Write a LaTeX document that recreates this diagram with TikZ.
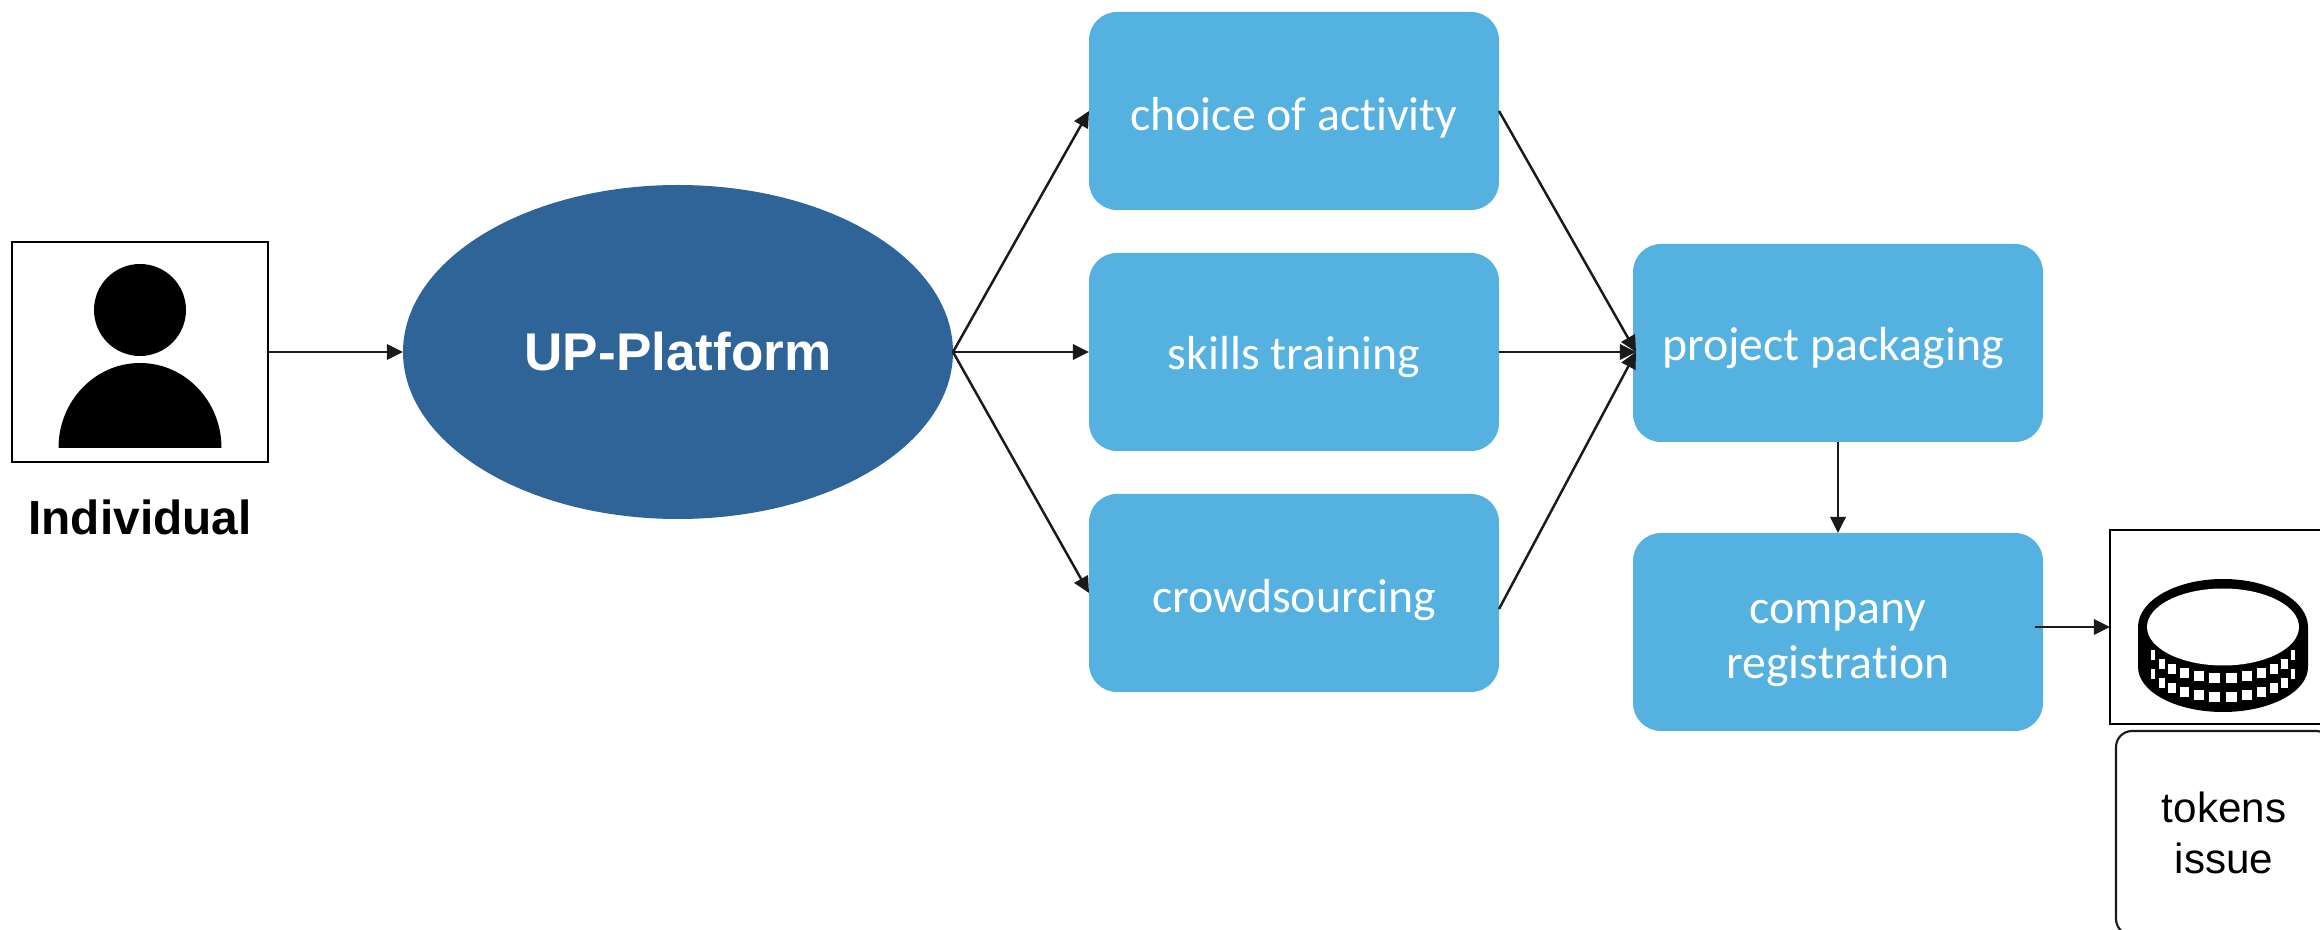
\documentclass[tikz,border=0pt]{standalone}
\usepackage{fontspec}
\usetikzlibrary{shapes.geometric,arrows.meta}
\setmainfont{Liberation Sans}
\newfontfamily\boxfont[Ligatures=NoCommon]{Carlito}
\definecolor{lightblue}{HTML}{55B1E0}
\definecolor{darkblue}{HTML}{2E6498}
\definecolor{linegray}{HTML}{1A1A1A}
\tikzset{
  stagebox/.style={fill=lightblue,rounded corners=0.28cm,minimum width=4.1cm,minimum height=1.98cm,
    outer sep=0pt,inner sep=0pt,text=white,align=center,text height=10.9pt,text depth=0pt,font=\boxfont\fontsize{13.6}{15.6}\selectfont},
  picbox/.style={draw=black,line width=0.6pt,fill=white,outer sep=0pt,inner sep=0pt},
  flow/.style={draw=linegray,line width=0.7pt,-{Triangle[length=4.6pt,width=4.4pt]}}
}
\begin{document}
\begin{tikzpicture}
  \useasboundingbox (0,0) rectangle (23.2,9.29);
  \node[picbox,minimum width=2.56cm,minimum height=2.2cm] (person) at (1.40,5.77) {};
  \fill[black] (1.40,6.19) circle (0.46cm);
  \fill[black] (0.585,4.81) arc (180:0:0.815cm and 0.85cm) -- cycle;
  \node[font=\bfseries\fontsize{13.6}{16}\selectfont] (personlabel) at (1.40,4.12) {Individual};

  \node[fill=darkblue,ellipse,minimum width=5.5cm,minimum height=3.34cm,outer sep=0pt,inner sep=0pt,
    text=white,font=\bfseries\fontsize{15.1}{18}\selectfont] (platform) at (6.78,5.77) {UP-Platform};

  \node[stagebox] (choice) at (12.94,8.18) {choice of activity};
  \node[stagebox,text height=10pt] (skills) at (12.94,5.77) {skills training};
  \node[stagebox] (crowd) at (12.94,3.36) {crowdsourcing};
  \node[stagebox,text height=10pt] (project) at (18.38,5.86) {project packaging\hspace*{2.8pt}};
  \node[stagebox,text height=26.6pt] (company) at (18.38,2.97) {company\\registration};

  \node[picbox,minimum width=2.26cm,minimum height=1.94cm] (coinbox) at (22.23,3.02) {};
  \node[draw=linegray,line width=0.6pt,rounded corners=0.16cm,minimum width=2.16cm,minimum height=2.04cm,outer sep=0pt,
    align=center,font=\fontsize{12}{14.4}\selectfont] (tokens) at (22.24,0.96) {tokens\\issue};

  % coin
  \fill[black] (21.38,3.02) arc (180:0:0.85cm and 0.48cm) -- (23.08,2.62) arc (0:-180:0.85cm and 0.45cm) -- cycle;
  \fill[white] (22.23,3.02) ellipse (0.76cm and 0.385cm);
  \foreach \rowy in {2.81,2.62}
    \foreach \ang in {-76.5,-58.5,-45.5,-32.5,-19.5,-6.5,6.5,19.5,32.5,45.5,58.5,76.5} {
      \pgfmathsetmacro{\cx}{22.23+0.72*sin(\ang)}
      \pgfmathsetmacro{\cy}{\rowy-0.30*cos(\ang)}
      \pgfmathsetmacro{\hw}{0.05*cos(\ang)+0.005}
      \fill[white] (\cx-\hw,\cy-0.05) rectangle (\cx+\hw,\cy+0.05);
    }

  \coordinate (projectin) at (16.36,5.77);
  \coordinate (crowdout) at (14.99,3.20);
  \coordinate (companyout) at (20.35,3.02);

  \draw[flow] (person.east |- platform.west) -- (platform.west);
  \draw[flow] (platform.east) -- (choice.west);
  \draw[flow] (platform.east) -- (skills.west);
  \draw[flow] (platform.east) -- (crowd.west);
  \draw[flow] (choice.east) -- (projectin);
  \draw[flow] (skills.east) -- (projectin);
  \draw[flow] (crowdout) -- (projectin);
  \draw[flow] (project.south) -- (company.north);
  \draw[flow] (companyout) -- (coinbox.west |- companyout);
\end{tikzpicture}
\end{document}
